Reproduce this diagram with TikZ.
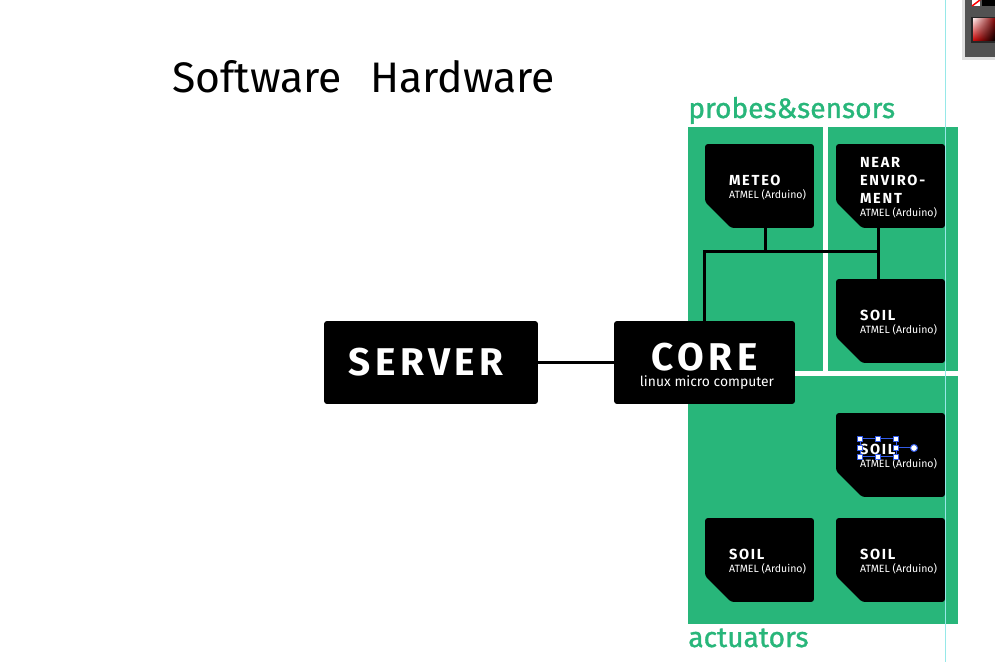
\documentclass[tikz,border=0pt]{standalone}
\usepackage{fontspec}
\setmainfont{Fira Sans}
\newfontfamily\titlefont[LetterSpace=12]{Fira Sans}
\newfontfamily\labelfont[FakeBold=1.2]{Fira Sans}
\usetikzlibrary{positioning,shadings}
\definecolor{leafgreen}{RGB}{40,182,122}
\definecolor{guidecyan}{RGB}{150,232,232}
\definecolor{handleblue}{RGB}{50,90,230}
\newcommand{\unitname}[1]{{\titlefont\bfseries\fontsize{8.3}{10.2}\selectfont #1}}

\begin{document}
\begin{tikzpicture}[x=0.02cm,y=-0.02cm,
    wire/.style={line width=0.06cm},
    unit/.style={fill=black,rounded corners=0.06cm,text=white,align=center,inner sep=0pt,minimum height=1.66cm},
    boardtext/.style={xshift=0.16cm,yshift=-0.04cm,inner sep=0pt,text=white,align=left,
        font=\fontsize{6}{7.4}\selectfont},
    sensor/.style={minimum width=2.18cm,minimum height=1.68cm,inner sep=0pt,
        label={[boardtext]center:#1},
        path picture={\fill[black,rounded corners=0.06cm] (path picture bounding box.north west)
            -- (path picture bounding box.north east) -- (path picture bounding box.south east)
            -- ([xshift=0.52cm]path picture bounding box.south west)
            -- ([yshift=0.52cm]path picture bounding box.south west) -- cycle;}},
    heading/.style={anchor=base west,inner sep=0pt,font=\fontsize{24.3}{27}\selectfont},
    group/.style={font=\labelfont\fontsize{16}{18}\selectfont,text=leafgreen,inner sep=0pt,anchor=base west}]
    \useasboundingbox (0,0) rectangle (995,662);

    % headings
    \node[heading] (soft) at (172,93) {Software};
    \node[heading] (hard) at (370,93) {Hardware};

    % green field with its two parts
    \fill[leafgreen] (688,127) rectangle (958,624);
    \fill[white] (823,127) rectangle (828,372);
    \fill[white] (688,371) rectangle (958,376);
    \node[group] (probes) at (688,118) {probes\&sensors};
    \node[group] (act) at (688,647) {actuators};

    % boards
    \node[unit,minimum width=4.28cm,font=\titlefont\bfseries\fontsize{22}{24}\selectfont] (server) at (431,362.5) {SERVER\hspace*{0.2cm}};
    \node[unit,minimum width=3.62cm] (core) at (704.5,362.5)
        {{\titlefont\bfseries\fontsize{22}{24}\selectfont\rule{0pt}{20pt}CORE}\\[-2.5pt]{\fontsize{7.9}{9}\selectfont\hspace*{0.1cm}linux micro computer}};

    \node[sensor={\unitname{METEO}\\ATMEL (Arduino)}] (meteo) at (759.5,186) {};
    \node[sensor={\unitname{NEAR}\\[2.8pt]\unitname{ENVIRO-}\\[2.8pt]\unitname{MENT}\\ATMEL (Arduino)}] (near) at (890.5,186) {};
    \node[sensor={\unitname{SOIL}\\ATMEL (Arduino)}] (soilp) at (890.5,321) {};
    \node[sensor={\unitname{SOIL}\\ATMEL (Arduino)}] (soila) at (890.5,455) {};
    \node[sensor={\unitname{SOIL}\\ATMEL (Arduino)}] (soilb) at (759.5,560) {};
    \node[sensor={\unitname{SOIL}\\ATMEL (Arduino)}] (soilc) at (890.5,560) {};

    % links
    \coordinate (bus) at (704,252);
    \coordinate (tapm) at ([xshift=0.11cm]meteo.south);
    \coordinate (tapn) at ([xshift=-0.25cm]near.south);
    \draw[wire] (server) -- (core);
    \draw[wire] (core.north -| bus) -- (bus) -- (bus -| tapn);
    \draw[wire] (tapm) -- (tapm |- bus);
    \draw[wire] (tapn) -- (tapn |- soilp.north);

    % editor leftovers
    \draw[handleblue,line width=0.02cm] (860,439) rectangle (896,457);
    \draw[handleblue,line width=0.02cm] (896,448) -- (914,448);
    \fill[white,draw=handleblue,line width=0.02cm] (914,448) circle (0.07cm);
    \foreach \hx/\hy in {860/439,878/439,896/439,860/448,896/448,860/457,878/457,896/457}
        \filldraw[fill=white,draw=handleblue,line width=0.02cm] (\hx-2.5,\hy-2.5) rectangle (\hx+2.5,\hy+2.5);
    \fill[black!12] (962,0) rectangle (995,60);
    \fill[black!68] (965,0) rectangle (995,57);
    \fill[black!85] (971,17) rectangle (995,43);
    \shade[upper left=red!10,upper right=red!50!black,lower left=red!80!black,lower right=black] (973,19) rectangle (995,41);
    \fill[white] (972,0) rectangle (980,6);
    \draw[red,line width=0.03cm] (972,6) -- (980,0);
    \fill[black] (982,0) rectangle (995,6);
    \draw[guidecyan,line width=0.02cm] (945,0) -- (945,662);
\end{tikzpicture}
\end{document}
